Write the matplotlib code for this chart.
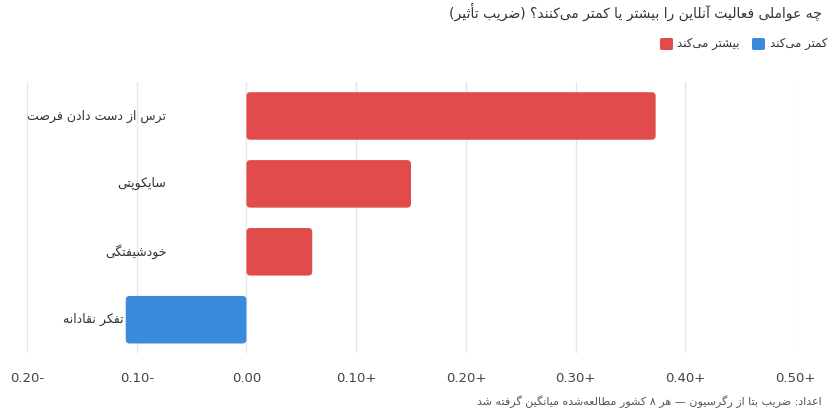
import matplotlib
matplotlib.use("Agg")
import matplotlib.pyplot as plt
from matplotlib.patches import FancyBboxPatch, Rectangle

categories = ["ترس از دست دادن فرصت", "سایکوپتی", "خودشیفتگی", "هوش و تفکر نقادانه"]
values = [0.373, 0.150, 0.060, -0.110]
tick_vals = [-0.2, -0.1, 0.0, 0.1, 0.2, 0.3, 0.4, 0.5]
tick_labels = ["0.20-", "0.10-", "0.00", "0.10+", "0.20+", "0.30+", "0.40+", "0.50+"]
title = "چه عواملی فعالیت آنلاین را بیشتر یا کمتر می‌کنند؟ (ضریب تأثیر)"
legend_labels = ["بیشتر می‌کند", "کمتر می‌کند"]
footer = "اعداد: ضریب بتا از رگرسیون — هر ۸ کشور مطالعه‌شده میانگین گرفته شد"
RED, BLUE = "#e24b4b", "#3a8ade"

# --- minimal Arabic/Persian shaping ---
F = {  # iso, fin, ini, med (ini/med None => right-joining only)
 'ا':(0xFE8D,0xFE8E,None,None),'آ':(0xFE81,0xFE82,None,None),'أ':(0xFE83,0xFE84,None,None),
 'ب':(0xFE8F,0xFE90,0xFE91,0xFE92),'پ':(0xFB56,0xFB57,0xFB58,0xFB59),'ت':(0xFE95,0xFE96,0xFE97,0xFE98),
 'ث':(0xFE99,0xFE9A,0xFE9B,0xFE9C),'ج':(0xFE9D,0xFE9E,0xFE9F,0xFEA0),'چ':(0xFB7A,0xFB7B,0xFB7C,0xFB7D),
 'ح':(0xFEA1,0xFEA2,0xFEA3,0xFEA4),'خ':(0xFEA5,0xFEA6,0xFEA7,0xFEA8),'د':(0xFEA9,0xFEAA,None,None),
 'ذ':(0xFEAB,0xFEAC,None,None),'ر':(0xFEAD,0xFEAE,None,None),'ز':(0xFEAF,0xFEB0,None,None),
 'ژ':(0xFB8A,0xFB8B,None,None),'س':(0xFEB1,0xFEB2,0xFEB3,0xFEB4),'ش':(0xFEB5,0xFEB6,0xFEB7,0xFEB8),
 'ص':(0xFEB9,0xFEBA,0xFEBB,0xFEBC),'ض':(0xFEBD,0xFEBE,0xFEBF,0xFEC0),'ط':(0xFEC1,0xFEC2,0xFEC3,0xFEC4),
 'ظ':(0xFEC5,0xFEC6,0xFEC7,0xFEC8),'ع':(0xFEC9,0xFECA,0xFECB,0xFECC),'غ':(0xFECD,0xFECE,0xFECF,0xFED0),
 'ف':(0xFED1,0xFED2,0xFED3,0xFED4),'ق':(0xFED5,0xFED6,0xFED7,0xFED8),'ک':(0xFB8E,0xFB8F,0xFB90,0xFB91),
 'گ':(0xFB92,0xFB93,0xFB94,0xFB95),'ل':(0xFEDD,0xFEDE,0xFEDF,0xFEE0),'م':(0xFEE1,0xFEE2,0xFEE3,0xFEE4),
 'ن':(0xFEE5,0xFEE6,0xFEE7,0xFEE8),'ه':(0xFEE9,0xFEEA,0xFEEB,0xFEEC),'و':(0xFEED,0xFEEE,None,None),
 'ی':(0xFBFC,0xFBFD,0xFBFE,0xFBFF),
}
def shape(s):
    out = []
    for i, c in enumerate(s):
        if c not in F:
            if c != '\u200c':
                out.append(c)
            continue
        p = s[i-1] if i > 0 else ''
        n = s[i+1] if i+1 < len(s) else ''
        jp = p in F and F[p][2] is not None
        jn = n in F and F[c][2] is not None
        f = F[c]
        if jp and jn: g = f[3]
        elif jp: g = f[1]
        elif jn: g = f[2]
        else: g = f[0]
        out.append(chr(g))
    r = ''.join(reversed(out))
    return r.translate(str.maketrans('()', ')('))

plt.rcParams['font.family'] = ['DejaVu Sans', 'Noto Sans']
fig = plt.figure(figsize=(8.31, 4.15), dpi=100)
W, H = 831, 415
ax = fig.add_axes([27/W, 1-353/H, (795-27)/W, (353-82)/H])
ax.set_xlim(-0.2, 0.5)
ax.set_ylim(3.49, -0.5)
for s in ax.spines.values():
    s.set_visible(False)
ax.set_xticks(tick_vals)
ax.set_xticklabels(tick_labels, color="#444444", fontsize=9.5)
ax.tick_params(length=0, pad=14)
ax.set_yticks([])
ax.grid(axis='x', color="#e6e6e6", linewidth=1, zorder=0)
ax.set_axisbelow(True)

xpp = 0.7/768
ypp = 3.99/271
for i, (c, v) in enumerate(zip(categories, values)):
    ax.text(-0.0729, i, shape(c), ha='right', va='center', fontsize=9, color="#333333", zorder=1)
    x0 = min(0, v)
    bb = FancyBboxPatch((x0, i-0.35), abs(v), 0.70,
                        boxstyle="round,pad=0,rounding_size=%f" % (4*xpp),
                        mutation_aspect=ypp/xpp, facecolor=RED if v > 0 else BLUE,
                        edgecolor='none', zorder=3)
    ax.add_patch(bb)

fig.text(822/W, 1-12/H, shape(title), ha='right', va='center', fontsize=10, color="#333333")
fig.text(822/W, 1-402/H, shape(footer), ha='right', va='center', fontsize=8, color="#555555")
# legend
for x_sq, x_txt, lab, col in [(660, 677, legend_labels[0], RED), (752, 770, legend_labels[1], BLUE)]:
    fig.patches.append(FancyBboxPatch((x_sq/W, 1-50/H), 13/W, 12/H, boxstyle="round,pad=0,rounding_size=0.003",
                       transform=fig.transFigure, facecolor=col, edgecolor='none'))
    fig.text(x_txt/W, 1-44/H, shape(lab), ha='left', va='center', fontsize=8.5, color="#333333")

fig.savefig("out.png", dpi=100)
